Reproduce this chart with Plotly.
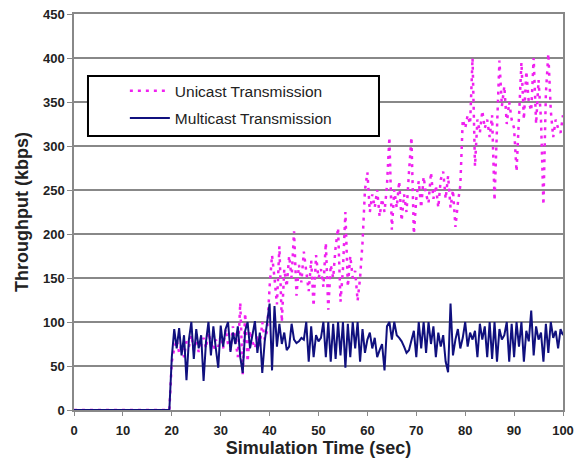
import numpy as np
import plotly.graph_objects as go

# Time grid (seconds): idle period then 0.5 s samples from 20 to 100
t_idle = [0, 19.5]
t_active = list(np.arange(20, 100.01, 0.5))
time = t_idle + t_active

unicast_idle = [0, 0]
unicast_active = [
    55, 70, 80, 65, 75, 60, 78, 72, 85, 68,
    80, 66, 74, 82, 70, 88, 76, 68, 80, 72,
    84, 70, 92, 75, 68, 95, 80, 60, 122, 40,
    110, 55, 90, 78, 70, 85, 72, 100, 80, 90,
    140, 176, 150, 120, 186, 100, 160, 140, 175, 150,
    203, 130, 165, 145, 180, 155, 135, 170, 118, 176,
    150, 160, 140, 190, 114, 165, 150, 185, 207, 123,
    160, 225, 140, 175, 150, 158, 124, 150, 190, 250,
    270, 225, 245, 230, 250, 220, 240, 225, 255, 310,
    205, 250, 230, 260, 215, 245, 225, 270, 310, 200,
    240, 260, 230, 265, 245, 235, 270, 240, 255, 230,
    262, 271, 240, 266, 230, 250, 208, 235, 255, 330,
    320, 335, 325, 400, 277, 330, 315, 340, 320, 330,
    310, 335, 238, 320, 397, 345, 368, 325, 350, 330,
    320, 271, 340, 395, 330, 385, 350, 340, 400, 325,
    375, 330, 233, 360, 405, 340, 310, 330, 320, 315,
    335,
]

multicast_idle = [0, 0]
multicast_active = [
    60, 92, 70, 93, 62, 85, 34, 80, 100, 58,
    92, 70, 85, 33, 78, 100, 62, 95, 70, 48,
    96, 72, 92, 100, 66, 88, 75, 95, 60, 42,
    90, 100, 70, 85, 101, 65, 88, 42, 78, 100,
    121, 45, 118, 72, 98, 75, 88, 68, 72, 98,
    80, 76, 78, 82, 80, 100, 55, 95, 60, 85,
    78, 82, 100, 60, 100, 55, 98, 58, 100, 62,
    100, 48, 98, 60, 100, 70, 100, 55, 92, 65,
    80, 88, 70, 82, 60, 68, 75, 45, 95, 100,
    80, 100, 85, 82, 78, 72, 65, 68, 80, 90,
    60, 100, 70, 100, 65, 100, 75, 95, 60, 88,
    72, 85, 55, 43, 121, 62, 80, 92, 70, 82,
    100, 72, 88, 80, 90, 60, 98, 80, 95, 60,
    100, 58, 100, 55, 92, 80, 85, 100, 55, 98,
    60, 100, 72, 100, 55, 90, 78, 113, 62, 95,
    80, 88, 55, 98, 65, 100, 82, 90, 70, 92,
    85,
]

unicast = unicast_idle + unicast_active
multicast = multicast_idle + multicast_active

x_ticks = list(range(0, 101, 10))
y_ticks = list(range(0, 451, 50))

FONT = "Liberation Sans, Arial, sans-serif"

fig = go.Figure()
fig.add_trace(go.Scatter(
    x=time, y=unicast, mode="lines", name="Unicast Transmission",
    line=dict(color="#f020f0", width=2.5, dash="3px,5px"),
    legendgroup="u",
))
fig.add_trace(go.Scatter(
    x=time, y=multicast, mode="lines", name="Multicast Transmission",
    line=dict(color="#10107e", width=2),
    legendgroup="m",
))

# legend frame
fig.add_shape(type="rect", xref="paper", yref="paper",
              x0=0.0286, x1=0.6237, y0=0.692, y1=0.8434,
              fillcolor="white", line=dict(color="black", width=2),
              layer="above")

fig.update_layout(
    width=577, height=464,
    margin=dict(l=74, r=14, t=14, b=54),
    paper_bgcolor="white", plot_bgcolor="white",
    font=dict(family=FONT, color="#222"),
    showlegend=True,
    legend=dict(x=0.104, y=0.848, xanchor="left", yanchor="top",
                bgcolor="rgba(0,0,0,0)", borderwidth=0,
                font=dict(size=15.5, family=FONT, color="#222"),
                itemwidth=40, tracegroupgap=4),
    xaxis=dict(range=[0, 100], tickvals=x_ticks, showgrid=False,
               showline=True, linecolor="#888", linewidth=1.5, mirror=True,
               ticks="outside", ticklen=4, tickcolor="#888",
               ticklabelstandoff=4,
               tickfont=dict(size=13, family=FONT, weight="bold", color="#222"),
               title=dict(text="Simulation Time (sec)", standoff=0,
                          font=dict(size=18, family=FONT, weight="bold", color="#222")),
               zeroline=False, automargin=False),
    yaxis=dict(range=[0, 450], tickvals=y_ticks, showgrid=True,
               gridcolor="#888", gridwidth=1.5,
               showline=True, linecolor="#888", linewidth=1.5, mirror=True,
               ticks="outside", ticklen=5, tickcolor="#888",
               tickfont=dict(size=13, family=FONT, weight="bold", color="#222"),
               title=dict(text="Throughput (kbps)", standoff=10,
                          font=dict(size=18, family=FONT, weight="bold", color="#222")),
               zeroline=False, automargin=False),
)

fig.write_html("out.html", config={"displayModeBar": False},
               post_script="document.body.style.margin='0';document.body.style.padding='0';")
